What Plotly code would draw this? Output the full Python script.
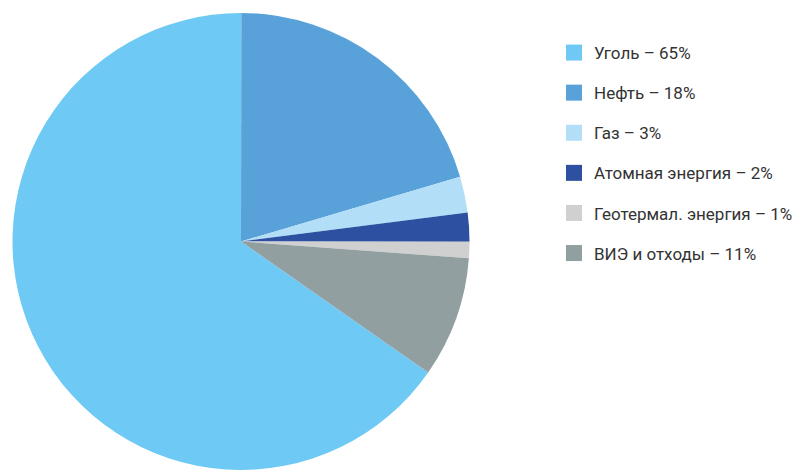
import plotly.graph_objects as go

labels = ["Уголь – 65%", "Нефть – 18%", "Газ – 3%", "Атомная энергия – 2%",
          "Геотермал. энергия – 1%", "ВИЭ и отходы – 11%"]
values = [65.3, 20.4, 2.55, 2.05, 1.15, 8.55]
colors = ["#6ECAF4", "#58A1D9", "#B2DEF8", "#2E50A1", "#D0D0D0", "#919FA1"]

fig = go.Figure()
fig.add_trace(go.Pie(
    labels=labels, values=values, sort=False, direction="clockwise",
    rotation=125.0, marker=dict(colors=colors, line=dict(width=0)),
    textinfo="none", hoverinfo="label", showlegend=False,
    domain=dict(x=[12/804, 470/804], y=[0, 1 - 13/470]),
))
for i, (lab, col) in enumerate(zip(labels, colors)):
    fig.add_trace(go.Scatter(
        x=[None], y=[None], mode="markers", name=lab,
        marker=dict(symbol="square", size=16, color=col),
        legendgroup=f"g{i}", showlegend=True,
    ))

fig.update_layout(
    width=804, height=470,
    margin=dict(l=0, r=0, t=0, b=0),
    paper_bgcolor="white", plot_bgcolor="white",
    xaxis=dict(visible=False), yaxis=dict(visible=False),
    font=dict(family="Roboto", size=17, color="#333333"),
    legend=dict(
        x=554/804, y=1 - 35/470, xanchor="left", yanchor="top",
        traceorder="grouped", tracegroupgap=15,
        font=dict(family="Roboto", size=17, color="#333333"),
        bgcolor="rgba(0,0,0,0)",
    ),
)
fig.write_html("out.html")
